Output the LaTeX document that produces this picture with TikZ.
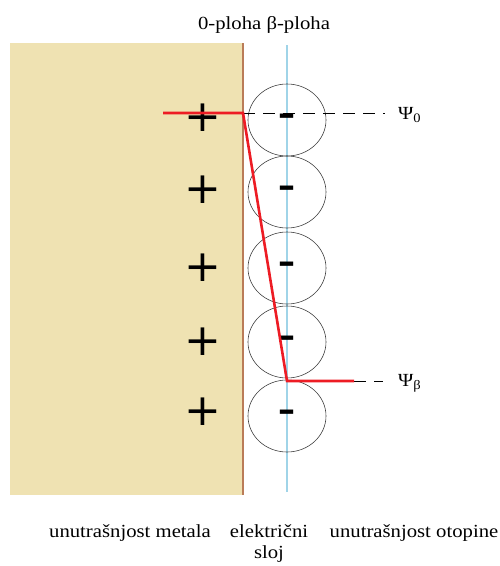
\documentclass[tikz,border=0pt]{standalone}
\usepackage{fontspec}
\setmainfont{Liberation Serif}[FakeStretch=1.12]
\newfontfamily\signfont{DejaVu Sans}
\definecolor{metal}{RGB}{239,226,178}
\definecolor{wall}{RGB}{186,124,88}
\definecolor{bline}{RGB}{160,212,232}
\definecolor{redl}{RGB}{237,28,36}
\tikzset{
  ion/.style={draw=black!75, line width=0.6pt, ellipse, minimum width=78pt, minimum height=72pt, inner sep=0pt},
  plussign/.style={font=\signfont\fontsize{44}{44}\selectfont, inner sep=0pt},
  minussign/.style={font=\signfont\bfseries\fontsize{34}{34}\selectfont, inner sep=0pt},
  lbl/.style={font=\fontsize{18.5}{21}\selectfont, inner sep=0pt},
  potential/.style={redl, line width=2.6pt},
  guide/.style={black, line width=0.7pt, dash pattern=on 12pt off 8pt}
}
\usetikzlibrary{shapes.geometric}
\begin{document}
\begin{tikzpicture}[x=1pt,y=-1pt]
\useasboundingbox (0,0) rectangle (499,566);
\fill[metal] (10,43) rectangle (243,495);
\draw[wall, line width=2.6pt] (243,43) -- (243,495);
\draw[bline, line width=1.2pt] (287,45) -- (287,492);
% ions
\foreach \i/\y in {1/120,2/192,3/268,4/342,5/416}{
  \node[ion] (c\i) at (287,\y) {};
  \node[minussign] (m\i) at (287,\y) {–};
}
\foreach \i/\y in {1/118,2/190,3/268,4/342,5/412}{
  \node[plussign] (p\i) at (203,\y) {+};
}
% coordinates
\coordinate (a) at (163,113);
\coordinate (b) at (243,113);
\coordinate (c) at (287,381);
\coordinate (d) at (354,381);
\coordinate (e0) at (385,113);
\coordinate (eb) at (383,381);
\node[lbl, anchor=west] (psi0) at (398,115) {Ψ\textsubscript{0}};
\node[lbl, anchor=west] (psib) at (398,383) {Ψ\textsubscript{β}};
\draw[guide] (b) -- (e0);
\draw[guide] (d) -- (eb);
\draw[potential] (a) -- (b) -- (c) -- (d);
% labels
\node[lbl] (planes) at (264,25) {0-ploha β-ploha};
\node[lbl] (metalL) at (130,533) {unutrašnjost metala};
\node[lbl, align=center] (layer) at (269,544) {električni\\sloj};
\node[lbl] (solL) at (414,533) {unutrašnjost otopine};
\end{tikzpicture}
\end{document}
